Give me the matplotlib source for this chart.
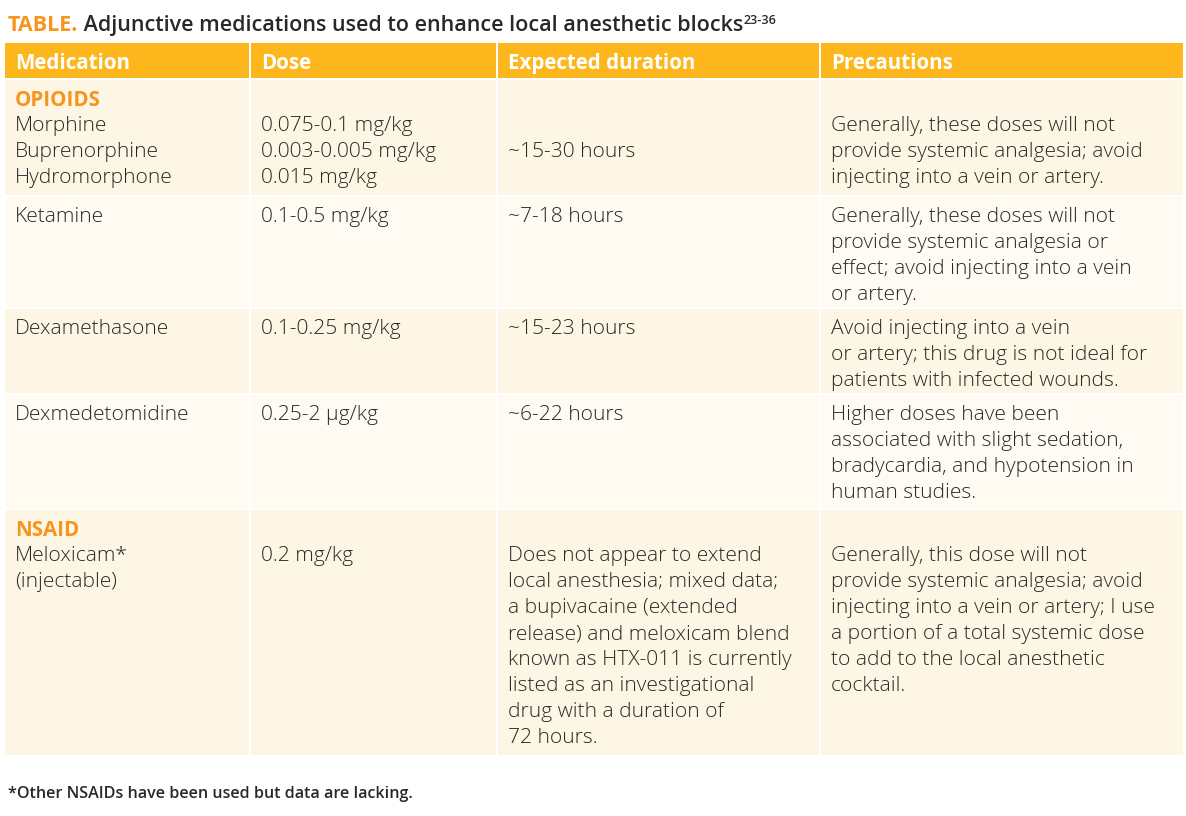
import matplotlib.pyplot as plt
from matplotlib.patches import Rectangle

# ---- table content ----
header = ["Medication", "Dose", "Expected duration", "Precautions"]
group_labels = ["OPIOIDS", None, None, None, "NSAID"]
medications = [["Morphine", "Buprenorphine", "Hydromorphone"],
               ["Ketamine"],
               ["Dexamethasone"],
               ["Dexmedetomidine"],
               ["Meloxicam*", "(injectable)"]]
doses = [["0.075-0.1 mg/kg", "0.003-0.005 mg/kg", "0.015 mg/kg"],
         ["0.1-0.5 mg/kg"],
         ["0.1-0.25 mg/kg"],
         ["0.25-2 \u00b5g/kg"],
         ["0.2 mg/kg"]]
durations = [["~15-30 hours"],
             ["~7-18 hours"],
             ["~15-23 hours"],
             ["~6-22 hours"],
             ["Does not appear to extend", "local anesthesia; mixed data;",
              "a bupivacaine (extended", "release) and meloxicam blend",
              "known as HTX-011 is currently", "listed as an investigational",
              "drug with a duration of", "72 hours."]]
precautions = [["Generally, these doses will not", "provide systemic analgesia; avoid",
                "injecting into a vein or artery."],
               ["Generally, these doses will not", "provide systemic analgesia or",
                "effect; avoid injecting into a vein", "or artery."],
               ["Avoid injecting into a vein", "or artery; this drug is not ideal for",
                "patients with infected wounds."],
               ["Higher doses have been", "associated with slight sedation,",
                "bradycardia, and hypotension in", "human studies."],
               ["Generally, this dose will not", "provide systemic analgesia; avoid",
                "injecting into a vein or artery; I use", "a portion of a total systemic dose",
                "to add to the local anesthetic", "cocktail."]]
title_tag = "TABLE."
title_text = " Adjunctive medications used to enhance local anesthetic blocks"
title_refs = "23-36"
footnote = "*Other NSAIDs have been used but data are lacking."

# ---- layout (pixels) ----
W, H = 1186, 816
col_x = [(5, 249), (251, 496), (498, 819), (821, 1183)]
head_y = (43, 78)
row_y = [(80, 195), (197, 307), (309, 393), (395, 508), (510, 755)]
line_h = 26
first_off = 20
row_bg = ["#FEF6E4", "#FFFAF2", "#FEF6E4", "#FFFAF2", "#FEF6E4"]
orange = "#FDB71C"
tag_col = "#F7941D"
ink = "#2A2727"
fs = 15.1

plt.rcParams['font.family'] = ['Open Sans', 'DejaVu Sans']

fig = plt.figure(figsize=(W / 100, H / 100), dpi=100)
ax = fig.add_axes([0, 0, 1, 1])
ax.set_xlim(0, W)
ax.set_ylim(H, 0)
ax.axis("off")

# header
for (x0, x1), name in zip(col_x, header):
    ax.add_patch(Rectangle((x0, head_y[0]), x1 - x0, head_y[1] - head_y[0],
                           color=orange, lw=0))
    ax.text(x0 + 10, (head_y[0] + head_y[1]) / 2 + 3, name, color="white",
            fontsize=14.8, fontweight="bold", va="center", ha="left")

# body rows
for i, (y0, y1) in enumerate(row_y):
    for (x0, x1) in col_x:
        ax.add_patch(Rectangle((x0, y0), x1 - x0, y1 - y0, color=row_bg[i], lw=0))
    top = y0 + first_off
    if group_labels[i] is not None:
        ax.text(col_x[0][0] + 10, top, group_labels[i], color=tag_col,
                fontsize=14.8, fontweight="bold", va="center")
        start = 1
    else:
        start = 0
    # opioids: duration sits on the middle line of the drug names
    dur_start = start + (len(medications[i]) - 1) // 2 if i == 0 else start
    cells = [(medications[i], start), (doses[i], start),
             (durations[i], dur_start), (precautions[i], start)]
    for c, (lines, s) in enumerate(cells):
        for k, line in enumerate(lines):
            ax.text(col_x[c][0] + 10, top + (s + k) * line_h, line, color=ink,
                    fontsize=fs, fontweight="light", va="center", ha="left")

# title
t1 = ax.text(8, 31, title_tag, color=tag_col, fontsize=15.5, fontweight="bold",
             va="baseline", ha="left")
t2 = ax.annotate(title_text, xy=(1, 0), xycoords=t1, color=ink, fontsize=15.5,
                 fontweight="semibold", va="bottom", ha="left")
ax.annotate(title_refs, xy=(1, 0.45), xycoords=t2, color=ink, fontsize=9,
            fontweight="semibold", va="bottom", ha="left")

# footnote
ax.text(8, 794, footnote, color=ink, fontsize=11.6, fontweight="semibold",
        va="center", ha="left")

fig.savefig("out.png", dpi=100, facecolor="white")
